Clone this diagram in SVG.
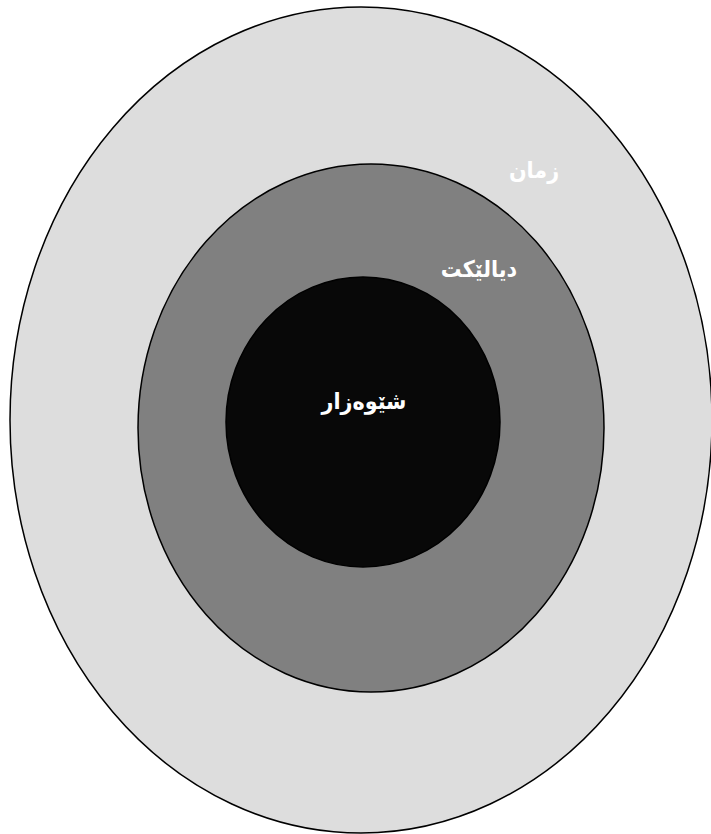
<svg xmlns="http://www.w3.org/2000/svg" width="711" height="834" viewBox="0 0 711 834">
<style>
.ring{stroke:#000;stroke-width:1.5}
.lbl{font-family:"DejaVu Sans Condensed","DejaVu Sans",sans-serif;font-weight:bold;font-size:23px;fill:#fff;text-anchor:middle}
</style>
<rect width="711" height="834" fill="#fff"/>
<g id="language">
<ellipse class="ring" cx="361" cy="420" rx="351" ry="413" fill="#dddddd"/>
<text class="lbl" x="534" y="178" direction="rtl">زمان</text>
</g>
<g id="dialect">
<ellipse class="ring" cx="371" cy="428" rx="233" ry="264" fill="#808080"/>
<text class="lbl" x="479" y="277" direction="rtl">دیالێکت</text>
</g>
<g id="subdialect">
<ellipse class="ring" cx="363" cy="422" rx="137" ry="145" fill="#080808"/>
<text class="lbl" x="364" y="409" direction="rtl">شێوەزار</text>
</g>
<g id="connectors"></g>
</svg>
